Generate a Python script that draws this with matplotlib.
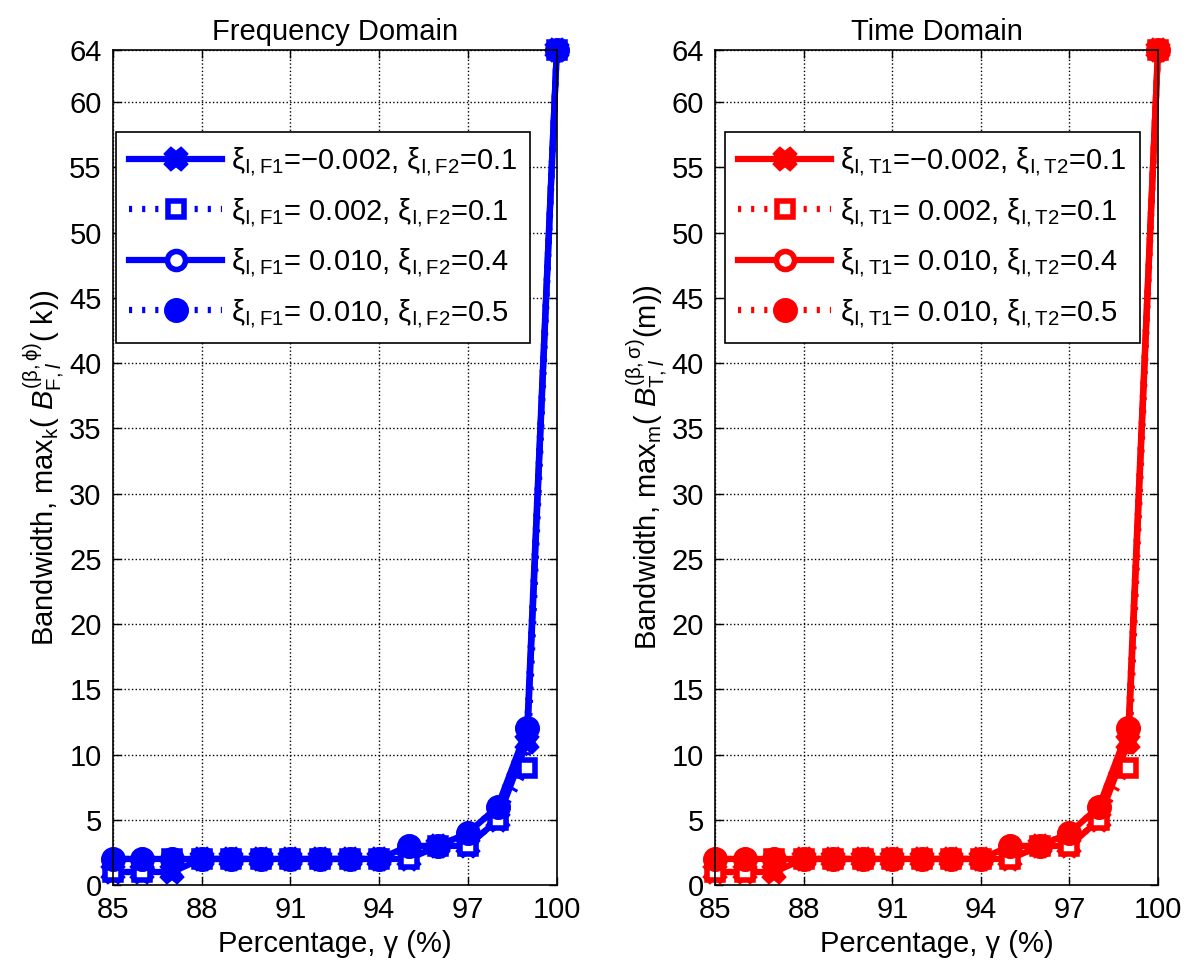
# Bandwidth vs percentage, frequency and time domain
import numpy as np
import matplotlib.pyplot as plt

plt.rcParams['font.family'] = ['Liberation Sans', 'DejaVu Sans']
plt.rcParams['mathtext.fontset'] = 'custom'
plt.rcParams['mathtext.rm'] = 'Liberation Sans'
plt.rcParams['mathtext.it'] = 'Liberation Sans:italic'

# data (same curves in both panels)
gamma = [85, 86, 87, 88, 89, 90, 91, 92, 93, 94, 95, 96, 97, 98, 99, 100]
s_neg002 = [1, 1, 1, 2, 2, 2, 2, 2, 2, 2, 2, 3, 3, 5, 11, 64]
s_pos002 = [1, 1, 2, 2, 2, 2, 2, 2, 2, 2, 2, 3, 3, 5, 9, 64]
s_010_04 = [2, 2, 2, 2, 2, 2, 2, 2, 2, 2, 3, 3, 4, 6, 12, 64]
s_010_05 = [2, 2, 2, 2, 2, 2, 2, 2, 2, 2, 3, 3, 4, 6, 12, 64]

xticks = [85, 88, 91, 94, 97, 100]
yticks = [0, 5, 10, 15, 20, 25, 30, 35, 40, 45, 50, 55, 60, 64]

fd_labels = [r'$\mathrm{\xi}_{\mathrm{I,F1}}$=$-$0.002, $\mathrm{\xi}_{\mathrm{I,F2}}$=0.1',
             r'$\mathrm{\xi}_{\mathrm{I,F1}}$= 0.002, $\mathrm{\xi}_{\mathrm{I,F2}}$=0.1',
             r'$\mathrm{\xi}_{\mathrm{I,F1}}$= 0.010, $\mathrm{\xi}_{\mathrm{I,F2}}$=0.4',
             r'$\mathrm{\xi}_{\mathrm{I,F1}}$= 0.010, $\mathrm{\xi}_{\mathrm{I,F2}}$=0.5']
td_labels = [l.replace('F1', 'T1').replace('F2', 'T2') for l in fd_labels]

fd_ylabel = r'Bandwidth, max$_{\mathrm{k}}$( $B^{(\mathrm{\beta},\mathrm{\phi})}_{\mathrm{F},l}$( k))'
td_ylabel = r'Bandwidth, max$_{\mathrm{m}}$( $B^{(\mathrm{\beta},\mathrm{\sigma})}_{\mathrm{T},l}$(m))'

dotted = (0, (0.5, 1.6))
series = [s_neg002, s_pos002, s_010_04, s_010_05]
styles = [dict(ls='-', marker='X', mfc=None, ms=13),
          dict(ls=dotted, marker='s', mfc='white', ms=11),
          dict(ls='-', marker='o', mfc='white', ms=13),
          dict(ls=dotted, marker='o', mfc=None, ms=14)]

fig = plt.figure(figsize=(12, 9.68), dpi=100)
ax1 = fig.add_axes([0.094, 0.0857, 0.370, 0.8626])
ax2 = fig.add_axes([0.596, 0.0857, 0.369, 0.8626])

for ax, color, labels, title, ylab, lx in [
        (ax1, '#0000ff', fd_labels, 'Frequency Domain', fd_ylabel, 0.0),
        (ax2, '#ff0000', td_labels, 'Time Domain', td_ylabel, 0.015)]:
    for y, st, lab in zip(series, styles, labels):
        mfc = color if st['mfc'] is None else st['mfc']
        ax.plot(gamma, y, color=color, ls=st['ls'], lw=4.5, marker=st['marker'],
                ms=st['ms'], mfc=mfc, mec=color, mew=4, label=lab, clip_on=False,
                dash_capstyle='butt')
    ax.set_xlim(85, 100)
    ax.set_ylim(0, 64)
    ax.set_xticks(xticks)
    ax.set_yticks(yticks)
    ax.tick_params(direction='in', top=True, right=True, labelsize=21, length=6, width=1, pad=8)
    ax.grid(True, ls=':', color='black', lw=1)
    for sp in ax.spines.values():
        sp.set_linewidth(1.2)
    ax.set_title(title, fontsize=21, pad=7)
    ax.set_xlabel('Percentage, γ (%)', fontsize=21, labelpad=4)
    ax.set_ylabel(ylab, fontsize=21, labelpad=2)
    leg = ax.legend(loc='upper left', bbox_to_anchor=(lx, 0.905), fontsize=21,
                    fancybox=False, framealpha=1, edgecolor='black', handlelength=3.2,
                    borderpad=0.45, labelspacing=0.6, handletextpad=0.3, borderaxespad=0.1)
    leg.get_frame().set_linewidth(1.2)

fig.savefig('out.png', dpi=100)
